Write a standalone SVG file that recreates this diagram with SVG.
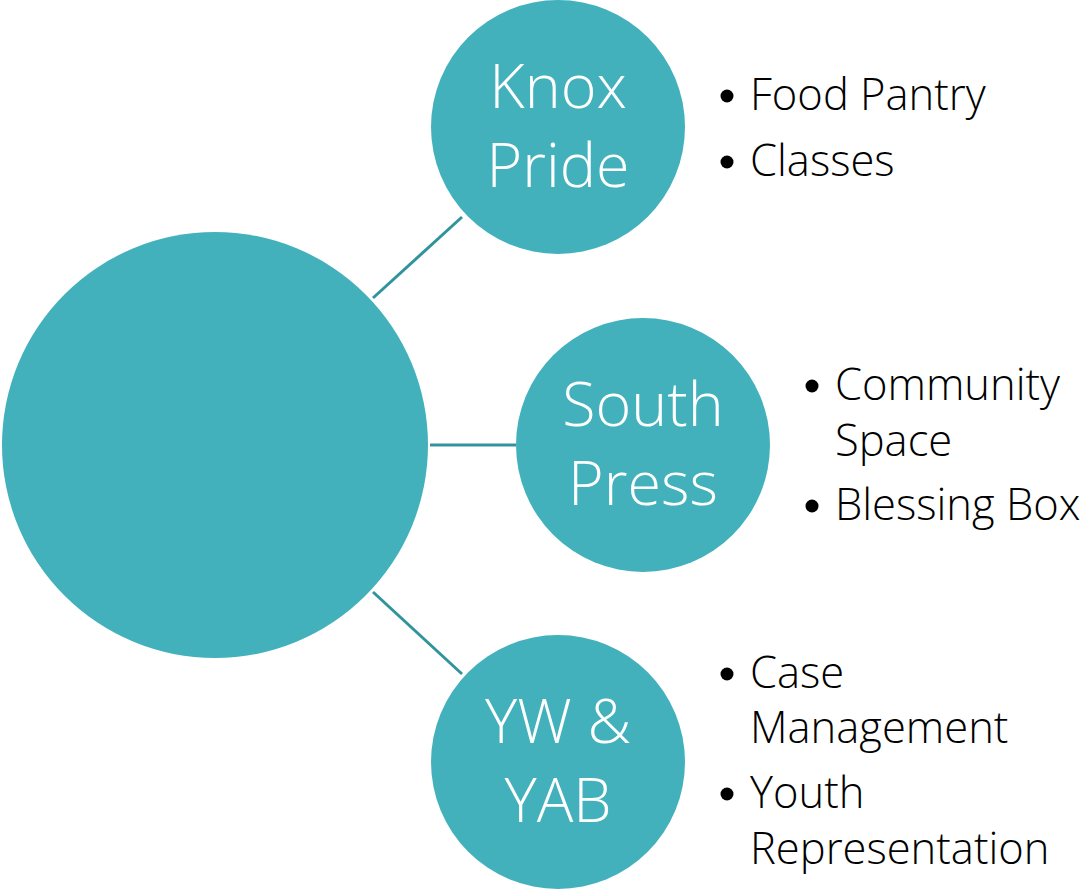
<svg xmlns="http://www.w3.org/2000/svg" width="1086" height="889" viewBox="0 0 1086 889">
<style>
.node{fill:#43B1BC}
.conn{stroke:#31939B;stroke-width:3;fill:none}
.ct{font-family:"Open Sans","Liberation Sans",sans-serif;font-weight:300;font-size:61px;fill:#ffffff;text-anchor:middle}
.lt{font-family:"Open Sans","Liberation Sans",sans-serif;font-weight:300;font-size:43.5px;fill:#000000}
.bul{fill:#000000}
</style>
<rect width="1086" height="889" fill="#ffffff"/>
<g id="connectors">
<line class="conn" x1="373" y1="298" x2="462" y2="217"/>
<line class="conn" x1="430" y1="445" x2="516" y2="445"/>
<line class="conn" x1="373" y1="592" x2="462" y2="674"/>
</g>
<g id="hub">
<circle class="node" cx="215" cy="445" r="213"/>
</g>
<g id="knox-pride">
<circle class="node" cx="558" cy="127" r="127"/>
<text class="ct" x="558" y="108">Knox</text>
<text class="ct" x="558" y="187">Pride</text>
</g>
<g id="knox-list">
<circle class="bul" cx="727" cy="96" r="6.5"/>
<text class="lt" x="750" y="110">Food Pantry</text>
<circle class="bul" cx="727" cy="162" r="6.5"/>
<text class="lt" x="750" y="176">Classes</text>
</g>
<g id="south-press">
<circle class="node" cx="643" cy="445" r="127"/>
<text class="ct" x="643" y="426">South</text>
<text class="ct" x="643" y="505">Press</text>
</g>
<g id="south-list">
<circle class="bul" cx="812" cy="386" r="6.5"/>
<text class="lt" x="835" y="400">Community</text>
<text class="lt" x="835" y="456">Space</text>
<circle class="bul" cx="812" cy="506" r="6.5"/>
<text class="lt" x="835" y="520">Blessing Box</text>
</g>
<g id="yw-yab">
<circle class="node" cx="558" cy="762" r="127"/>
<text class="ct" x="558" y="743">YW &amp;</text>
<text class="ct" x="558" y="822">YAB</text>
</g>
<g id="yw-list">
<circle class="bul" cx="727" cy="674" r="6.5"/>
<text class="lt" x="750" y="688">Case</text>
<text class="lt" x="750" y="743">Management</text>
<circle class="bul" cx="727" cy="794" r="6.5"/>
<text class="lt" x="750" y="808">Youth</text>
<text class="lt" x="750" y="864">Representation</text>
</g>
</svg>
